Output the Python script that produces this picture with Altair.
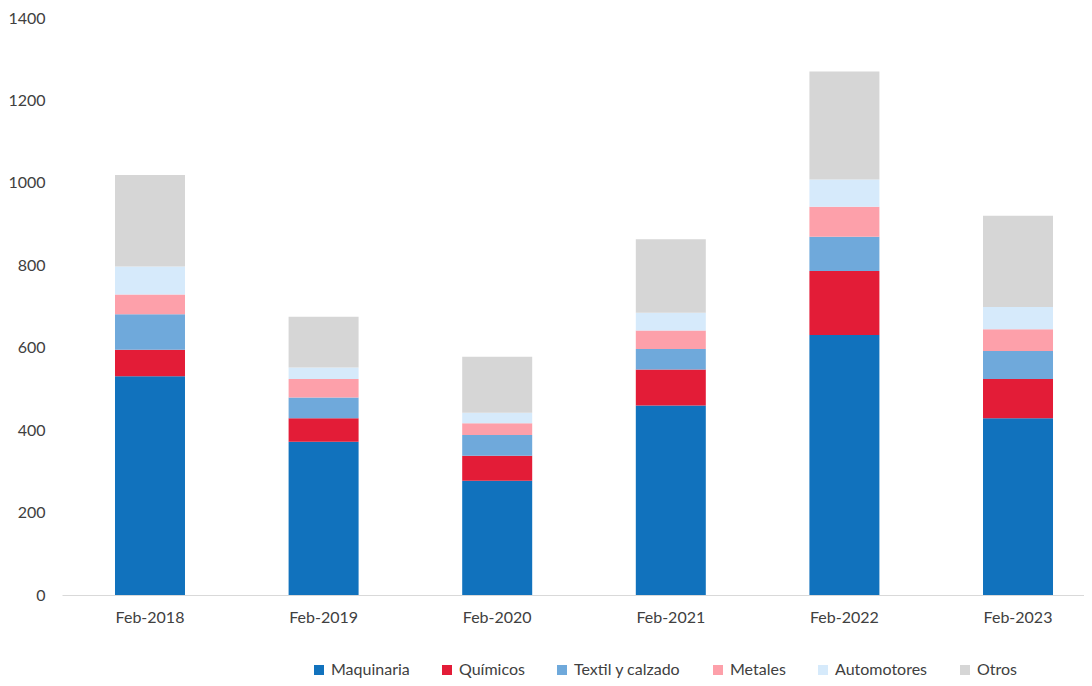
import altair as alt
import pandas as pd

periods = ["Feb-2018", "Feb-2019", "Feb-2020", "Feb-2021", "Feb-2022", "Feb-2023"]
series = ["Maquinaria", "Químicos", "Textil y calzado", "Metales", "Automotores", "Otros"]
colors = ["#1172bd", "#e31c37", "#6fa9db", "#fda0aa", "#d6eafb", "#d6d6d6"]

maquinaria = [531, 372, 277, 460, 631, 429]
quimicos = [64, 57, 61, 87, 155, 95]
textil = [86, 50, 50, 50, 83, 68]
metales = [48, 45, 29, 45, 73, 53]
automotores = [68, 28, 25, 43, 66, 54]
otros = [222, 123, 136, 178, 262, 221]

values = [maquinaria, quimicos, textil, metales, automotores, otros]

rows = []
for si, (name, vals) in enumerate(zip(series, values)):
    for p, v in zip(periods, vals):
        rows.append({"periodo": p, "sector": name, "valor": v, "orden": si})
df = pd.DataFrame(rows)

font = "Lato"
txt = "#404040"

chart = alt.Chart(df).mark_bar().encode(
    x=alt.X("periodo:N", sort=periods, title=None,
            scale=alt.Scale(paddingInner=0.5968, paddingOuter=0.2419, align=0.631),
            axis=alt.Axis(labelAngle=0, ticks=False, domainColor="#d9d9d9", domainWidth=1,
                          labelPadding=14, labelFontSize=16, labelFont=font, labelColor=txt)),
    y=alt.Y("valor:Q", stack="zero", title=None,
            scale=alt.Scale(domain=[0, 1400], nice=False),
            axis=alt.Axis(values=[0, 200, 400, 600, 800, 1000, 1200, 1400], format="d",
                          grid=False, domain=False, ticks=False, labelPadding=17,
                          labelFontSize=16, labelFont=font, labelColor=txt)),
    color=alt.Color("sector:N", sort=series,
                    scale=alt.Scale(domain=series, range=colors),
                    legend=alt.Legend(title=None, orient="none", direction="horizontal",
                                      legendX=249, legendY=644, columns=6,
                                      symbolType="square", symbolSize=100,
                                      symbolStrokeWidth=0, labelFontSize=16, labelFont=font,
                                      labelColor=txt, columnPadding=29, labelOffset=4)),
    order=alt.Order("orden:Q", sort="ascending"),
).properties(
    width=1022, height=577,
    autosize=alt.AutoSizeParams(type="none"),
    padding={"left": 54, "top": 10, "right": 0, "bottom": 83},
).configure_view(stroke=None)

chart.save("out.html", embed_options={"renderer": "svg", "actions": False})
